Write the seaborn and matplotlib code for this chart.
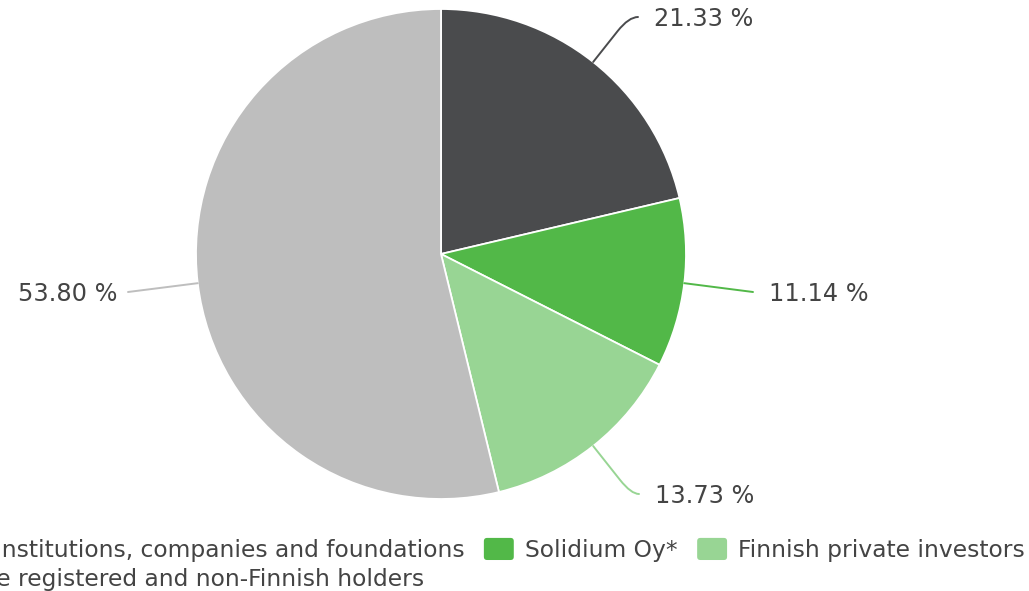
import numpy as np
import matplotlib
matplotlib.use("Agg")
import matplotlib.pyplot as plt
import seaborn as sns
from matplotlib.path import Path
from matplotlib.patches import PathPatch, FancyBboxPatch, Wedge
from matplotlib.legend_handler import HandlerPatch

# Shareholder groups and their shares (%)
categories = [
    "Finnish institutions, companies and foundations",
    "Solidium Oy*",
    "Finnish private investors",
    "Nominee registered and non-Finnish holders",
]
shares = [21.33, 11.14, 13.73, 53.80]
colors = ["#4a4b4d", "#52b848", "#98d594", "#bebebe"]
value_labels = [f"{v:.2f} %" for v in shares]

sns.set_theme(style="white")
plt.rcParams["font.family"] = ["DejaVu Sans"]
TEXT = "#444444"
FS_LABEL = 17.3
FS_LEGEND = 16.8

W, H = 1029, 591
fig = plt.figure(figsize=(W / 100, H / 100), dpi=100)
fig.patch.set_facecolor("white")

# pie geometry in pixels; axes span the whole figure, one data unit = radius
R, CX, CY = 245.0, 441.0, 254.0
ax = fig.add_axes([0, 0, 1, 1])
wedges, _ = ax.pie(
    shares, colors=colors, startangle=90, counterclock=False, radius=1.0,
    wedgeprops=dict(edgecolor="white", linewidth=1.3, antialiased=True),
)
ax.set_aspect("auto")
ax.set_xlim(-CX / R, (W - CX) / R)
ax.set_ylim(-(H - CY) / R, CY / R)
ax.axis("off")


def px(x, y):
    """pixel position (origin top-left) -> data coordinates"""
    return (x - CX) / R, (CY - y) / R


# connector end points (pixels) and label side
label_ends = [(638, 17), (753, 292), (639, 494), (128, 292)]
label_sides = [1, 1, 1, -1]

cum = np.cumsum(shares)
for i, (v, c, txt) in enumerate(zip(shares, colors, value_labels)):
    mid = np.deg2rad(360.0 * (cum[i] - v / 2) / 100.0)
    d = np.array([np.sin(mid), np.cos(mid)])
    start = d * 1.0
    ex, ey = px(*label_ends[i])
    end = np.array([ex, ey])
    side = label_sides[i]
    t = (ey - start[1]) / d[1] if abs(d[1]) > 1e-6 else np.inf
    corner = start + t * d
    if np.isfinite(t) and t > 0 and side * (end[0] - corner[0]) > 0:
        p1 = corner - d * (18 / R)
        verts = [start, p1, corner, end]
        codes = [Path.MOVETO, Path.LINETO, Path.CURVE3, Path.CURVE3]
    else:
        verts = [start, end]
        codes = [Path.MOVETO, Path.LINETO]
    ax.add_patch(PathPatch(Path(verts, codes), fill=False, edgecolor=c,
                           linewidth=1.4, capstyle="round"))
    gap = 16 if side > 0 else 10
    tx, ty = px(label_ends[i][0] + side * gap, label_ends[i][1] + 2)
    ax.text(tx, ty, txt, ha="left" if side > 0 else "right", va="center",
            fontsize=FS_LABEL, color=TEXT)


def rounded_box(legend, orig_handle, xdescent, ydescent, width, height, fontsize):
    return FancyBboxPatch((-xdescent, -ydescent), width, height,
                          boxstyle="round,pad=0,rounding_size=3")


order = [0, 3, 1, 2]
fig.legend(
    [wedges[k] for k in order], [categories[k] for k in order],
    ncol=3, loc="upper right", bbox_to_anchor=(1025 / W, 1 - 537 / H),
    frameon=False, borderpad=0, borderaxespad=0, fontsize=FS_LEGEND,
    handlelength=1.36, handleheight=1.2, handletextpad=0.44,
    columnspacing=0.8, labelspacing=0.2, labelcolor=TEXT,
    handler_map={Wedge: HandlerPatch(patch_func=rounded_box)},
)

fig.savefig("out.png", dpi=100, facecolor="white")
